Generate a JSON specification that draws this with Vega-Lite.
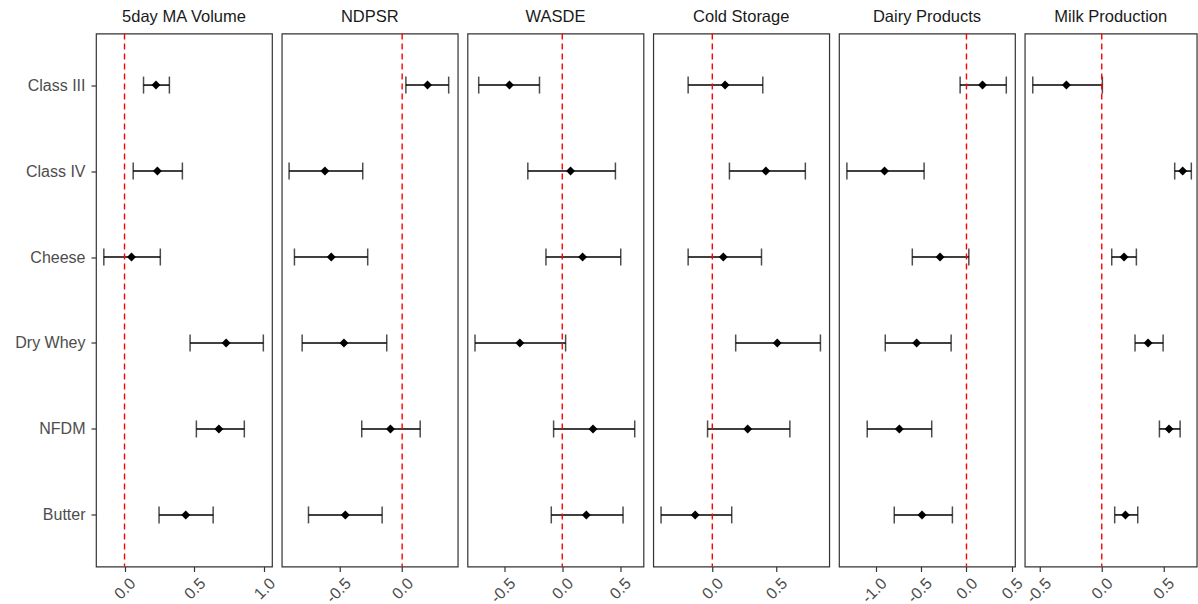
{
  "$schema": "https://vega.github.io/schema/vega-lite/v6.json",
  "padding": {"left": 14, "top": 8.5, "right": 0, "bottom": 0},
  "background": "white",
  "spacing": 9.75,
  "bounds": "flush",
  "config": {
    "view": {"stroke": "#333333", "strokeWidth": 1.2},
    "font": "Liberation Sans",
    "axis": {"grid": false, "domain": false, "tickColor": "#333333", "tickSize": 5, "tickWidth": 1.2, "labelColor": "#4D4D4D", "labelFont": "Liberation Sans", "labelFontSize": 16, "title": null},
    "title": {"font": "Liberation Sans", "fontSize": 16.5, "fontWeight": "normal", "color": "#1A1A1A", "offset": 7}
  },
  "data": {"values": [
    {"panel": "5day MA Volume", "commodity": "Class III", "est": 0.225, "lo": 0.136, "hi": 0.321},
    {"panel": "5day MA Volume", "commodity": "Class IV", "est": 0.235, "lo": 0.062, "hi": 0.414},
    {"panel": "5day MA Volume", "commodity": "Cheese", "est": 0.05, "lo": -0.148, "hi": 0.256},
    {"panel": "5day MA Volume", "commodity": "Dry Whey", "est": 0.727, "lo": 0.469, "hi": 0.993},
    {"panel": "5day MA Volume", "commodity": "NFDM", "est": 0.675, "lo": 0.514, "hi": 0.857},
    {"panel": "5day MA Volume", "commodity": "Butter", "est": 0.438, "lo": 0.247, "hi": 0.634},
    {"panel": "NDPSR", "commodity": "Class III", "est": 0.204, "lo": 0.03, "hi": 0.374},
    {"panel": "NDPSR", "commodity": "Class IV", "est": -0.621, "lo": -0.909, "hi": -0.317},
    {"panel": "NDPSR", "commodity": "Cheese", "est": -0.57, "lo": -0.866, "hi": -0.277},
    {"panel": "NDPSR", "commodity": "Dry Whey", "est": -0.468, "lo": -0.804, "hi": -0.124},
    {"panel": "NDPSR", "commodity": "NFDM", "est": -0.094, "lo": -0.325, "hi": 0.145},
    {"panel": "NDPSR", "commodity": "Butter", "est": -0.457, "lo": -0.753, "hi": -0.161},
    {"panel": "WASDE", "commodity": "Class III", "est": -0.457, "lo": -0.723, "hi": -0.197},
    {"panel": "WASDE", "commodity": "Class IV", "est": 0.072, "lo": -0.298, "hi": 0.46},
    {"panel": "WASDE", "commodity": "Cheese", "est": 0.176, "lo": -0.141, "hi": 0.506},
    {"panel": "WASDE", "commodity": "Dry Whey", "est": -0.367, "lo": -0.755, "hi": 0.029},
    {"panel": "WASDE", "commodity": "NFDM", "est": 0.266, "lo": -0.075, "hi": 0.627},
    {"panel": "WASDE", "commodity": "Butter", "est": 0.208, "lo": -0.095, "hi": 0.526},
    {"panel": "Cold Storage", "commodity": "Class III", "est": 0.1, "lo": -0.189, "hi": 0.395},
    {"panel": "Cold Storage", "commodity": "Class IV", "est": 0.419, "lo": 0.134, "hi": 0.728},
    {"panel": "Cold Storage", "commodity": "Cheese", "est": 0.086, "lo": -0.189, "hi": 0.385},
    {"panel": "Cold Storage", "commodity": "Dry Whey", "est": 0.508, "lo": 0.183, "hi": 0.846},
    {"panel": "Cold Storage", "commodity": "NFDM", "est": 0.277, "lo": -0.037, "hi": 0.607},
    {"panel": "Cold Storage", "commodity": "Butter", "est": -0.134, "lo": -0.401, "hi": 0.152},
    {"panel": "Dairy Products", "commodity": "Class III", "est": 0.177, "lo": -0.07, "hi": 0.439},
    {"panel": "Dairy Products", "commodity": "Class IV", "est": -0.903, "lo": -1.318, "hi": -0.467},
    {"panel": "Dairy Products", "commodity": "Cheese", "est": -0.291, "lo": -0.597, "hi": 0.026},
    {"panel": "Dairy Products", "commodity": "Dry Whey", "est": -0.549, "lo": -0.895, "hi": -0.169},
    {"panel": "Dairy Products", "commodity": "NFDM", "est": -0.74, "lo": -1.094, "hi": -0.383},
    {"panel": "Dairy Products", "commodity": "Butter", "est": -0.49, "lo": -0.796, "hi": -0.155},
    {"panel": "Milk Production", "commodity": "Class III", "est": -0.287, "lo": -0.56, "hi": 0.005},
    {"panel": "Milk Production", "commodity": "Class IV", "est": 0.657, "lo": 0.592, "hi": 0.727},
    {"panel": "Milk Production", "commodity": "Cheese", "est": 0.181, "lo": 0.081, "hi": 0.281},
    {"panel": "Milk Production", "commodity": "Dry Whey", "est": 0.376, "lo": 0.27, "hi": 0.498},
    {"panel": "Milk Production", "commodity": "NFDM", "est": 0.546, "lo": 0.468, "hi": 0.636},
    {"panel": "Milk Production", "commodity": "Butter", "est": 0.192, "lo": 0.105, "hi": 0.292}
  ]},
  "hconcat": [
    {
      "width": 176, "height": 533, "title": "5day MA Volume",
      "transform": [{"filter": "datum.panel === '5day MA Volume'"}],
      "layer": [
        {"mark": {"type": "rule", "color": "#000000", "strokeWidth": 1.5},
         "encoding": {
           "x": {"field": "lo", "type": "quantitative", "scale": {"domain": [-0.204, 1.055], "nice": false, "zero": false},
                 "axis": {"values": [0, 0.5, 1], "labelExpr": "replace(format(datum.value, '.1f'), '\u2212', '-')", "labelAngle": -45, "labelAlign": "right", "labelBaseline": "middle", "labelPadding": 9, "labelOffset": 8, "labelOverlap": false, "labelFlush": false, "labelBound": false}},
           "x2": {"field": "hi"},
           "y": {"field": "commodity", "type": "nominal", "sort": ["Class III", "Class IV", "Cheese", "Dry Whey", "NFDM", "Butter"], "scale": {"type": "point", "padding": 0.6}, "axis": {"labelPadding": 6}}}},
        {"mark": {"type": "tick", "orient": "vertical", "size": 17, "thickness": 1.5, "color": "#000000"},
         "encoding": {"x": {"field": "lo", "type": "quantitative"}, "y": {"field": "commodity", "type": "nominal", "sort": ["Class III", "Class IV", "Cheese", "Dry Whey", "NFDM", "Butter"]}}},
        {"mark": {"type": "tick", "orient": "vertical", "size": 17, "thickness": 1.5, "color": "#000000"},
         "encoding": {"x": {"field": "hi", "type": "quantitative"}, "y": {"field": "commodity", "type": "nominal", "sort": ["Class III", "Class IV", "Cheese", "Dry Whey", "NFDM", "Butter"]}}},
        {"mark": {"type": "point", "shape": "diamond", "filled": true, "size": 80, "color": "#000000", "opacity": 1},
         "encoding": {"x": {"field": "est", "type": "quantitative"}, "y": {"field": "commodity", "type": "nominal", "sort": ["Class III", "Class IV", "Cheese", "Dry Whey", "NFDM", "Butter"]}}},
        {"data": {"values": [{"v": 0}]},
         "mark": {"type": "rule", "color": "#FF0000", "strokeDash": [6, 4], "strokeWidth": 1.4},
         "encoding": {"x": {"field": "v", "type": "quantitative"}}}
      ]
    },
    {
      "width": 176, "height": 533, "title": "NDPSR",
      "transform": [{"filter": "datum.panel === 'NDPSR'"}],
      "layer": [
        {"mark": {"type": "rule", "color": "#000000", "strokeWidth": 1.5},
         "encoding": {
           "x": {"field": "lo", "type": "quantitative", "scale": {"domain": [-0.968, 0.447], "nice": false, "zero": false},
                 "axis": {"values": [-0.5, 0], "labelExpr": "replace(format(datum.value, '.1f'), '\u2212', '-')", "labelAngle": -45, "labelAlign": "right", "labelBaseline": "middle", "labelPadding": 9, "labelOffset": 8, "labelOverlap": false, "labelFlush": false, "labelBound": false}},
           "x2": {"field": "hi"},
           "y": {"field": "commodity", "type": "nominal", "sort": ["Class III", "Class IV", "Cheese", "Dry Whey", "NFDM", "Butter"], "scale": {"type": "point", "padding": 0.6}, "axis": null}}},
        {"mark": {"type": "tick", "orient": "vertical", "size": 17, "thickness": 1.5, "color": "#000000"},
         "encoding": {"x": {"field": "lo", "type": "quantitative"}, "y": {"field": "commodity", "type": "nominal", "sort": ["Class III", "Class IV", "Cheese", "Dry Whey", "NFDM", "Butter"]}}},
        {"mark": {"type": "tick", "orient": "vertical", "size": 17, "thickness": 1.5, "color": "#000000"},
         "encoding": {"x": {"field": "hi", "type": "quantitative"}, "y": {"field": "commodity", "type": "nominal", "sort": ["Class III", "Class IV", "Cheese", "Dry Whey", "NFDM", "Butter"]}}},
        {"mark": {"type": "point", "shape": "diamond", "filled": true, "size": 80, "color": "#000000", "opacity": 1},
         "encoding": {"x": {"field": "est", "type": "quantitative"}, "y": {"field": "commodity", "type": "nominal", "sort": ["Class III", "Class IV", "Cheese", "Dry Whey", "NFDM", "Butter"]}}},
        {"data": {"values": [{"v": 0}]},
         "mark": {"type": "rule", "color": "#FF0000", "strokeDash": [6, 4], "strokeWidth": 1.4},
         "encoding": {"x": {"field": "v", "type": "quantitative"}}}
      ]
    },
    {
      "width": 176, "height": 533, "title": "WASDE",
      "transform": [{"filter": "datum.panel === 'WASDE'"}],
      "layer": [
        {"mark": {"type": "rule", "color": "#000000", "strokeWidth": 1.5},
         "encoding": {
           "x": {"field": "lo", "type": "quantitative", "scale": {"domain": [-0.82, 0.703], "nice": false, "zero": false},
                 "axis": {"values": [-0.5, 0, 0.5], "labelExpr": "replace(format(datum.value, '.1f'), '\u2212', '-')", "labelAngle": -45, "labelAlign": "right", "labelBaseline": "middle", "labelPadding": 9, "labelOffset": 8, "labelOverlap": false, "labelFlush": false, "labelBound": false}},
           "x2": {"field": "hi"},
           "y": {"field": "commodity", "type": "nominal", "sort": ["Class III", "Class IV", "Cheese", "Dry Whey", "NFDM", "Butter"], "scale": {"type": "point", "padding": 0.6}, "axis": null}}},
        {"mark": {"type": "tick", "orient": "vertical", "size": 17, "thickness": 1.5, "color": "#000000"},
         "encoding": {"x": {"field": "lo", "type": "quantitative"}, "y": {"field": "commodity", "type": "nominal", "sort": ["Class III", "Class IV", "Cheese", "Dry Whey", "NFDM", "Butter"]}}},
        {"mark": {"type": "tick", "orient": "vertical", "size": 17, "thickness": 1.5, "color": "#000000"},
         "encoding": {"x": {"field": "hi", "type": "quantitative"}, "y": {"field": "commodity", "type": "nominal", "sort": ["Class III", "Class IV", "Cheese", "Dry Whey", "NFDM", "Butter"]}}},
        {"mark": {"type": "point", "shape": "diamond", "filled": true, "size": 80, "color": "#000000", "opacity": 1},
         "encoding": {"x": {"field": "est", "type": "quantitative"}, "y": {"field": "commodity", "type": "nominal", "sort": ["Class III", "Class IV", "Cheese", "Dry Whey", "NFDM", "Butter"]}}},
        {"data": {"values": [{"v": 0}]},
         "mark": {"type": "rule", "color": "#FF0000", "strokeDash": [6, 4], "strokeWidth": 1.4},
         "encoding": {"x": {"field": "v", "type": "quantitative"}}}
      ]
    },
    {
      "width": 176, "height": 533, "title": "Cold Storage",
      "transform": [{"filter": "datum.panel === 'Cold Storage'"}],
      "layer": [
        {"mark": {"type": "rule", "color": "#000000", "strokeWidth": 1.5},
         "encoding": {
           "x": {"field": "lo", "type": "quantitative", "scale": {"domain": [-0.462, 0.915], "nice": false, "zero": false},
                 "axis": {"values": [0, 0.5], "labelExpr": "replace(format(datum.value, '.1f'), '\u2212', '-')", "labelAngle": -45, "labelAlign": "right", "labelBaseline": "middle", "labelPadding": 9, "labelOffset": 8, "labelOverlap": false, "labelFlush": false, "labelBound": false}},
           "x2": {"field": "hi"},
           "y": {"field": "commodity", "type": "nominal", "sort": ["Class III", "Class IV", "Cheese", "Dry Whey", "NFDM", "Butter"], "scale": {"type": "point", "padding": 0.6}, "axis": null}}},
        {"mark": {"type": "tick", "orient": "vertical", "size": 17, "thickness": 1.5, "color": "#000000"},
         "encoding": {"x": {"field": "lo", "type": "quantitative"}, "y": {"field": "commodity", "type": "nominal", "sort": ["Class III", "Class IV", "Cheese", "Dry Whey", "NFDM", "Butter"]}}},
        {"mark": {"type": "tick", "orient": "vertical", "size": 17, "thickness": 1.5, "color": "#000000"},
         "encoding": {"x": {"field": "hi", "type": "quantitative"}, "y": {"field": "commodity", "type": "nominal", "sort": ["Class III", "Class IV", "Cheese", "Dry Whey", "NFDM", "Butter"]}}},
        {"mark": {"type": "point", "shape": "diamond", "filled": true, "size": 80, "color": "#000000", "opacity": 1},
         "encoding": {"x": {"field": "est", "type": "quantitative"}, "y": {"field": "commodity", "type": "nominal", "sort": ["Class III", "Class IV", "Cheese", "Dry Whey", "NFDM", "Butter"]}}},
        {"data": {"values": [{"v": 0}]},
         "mark": {"type": "rule", "color": "#FF0000", "strokeDash": [6, 4], "strokeWidth": 1.4},
         "encoding": {"x": {"field": "v", "type": "quantitative"}}}
      ]
    },
    {
      "width": 176, "height": 533, "title": "Dairy Products",
      "transform": [{"filter": "datum.panel === 'Dairy Products'"}],
      "layer": [
        {"mark": {"type": "rule", "color": "#000000", "strokeWidth": 1.5},
         "encoding": {
           "x": {"field": "lo", "type": "quantitative", "scale": {"domain": [-1.405, 0.535], "nice": false, "zero": false},
                 "axis": {"values": [-1, -0.5, 0, 0.5], "labelExpr": "replace(format(datum.value, '.1f'), '\u2212', '-')", "labelAngle": -45, "labelAlign": "right", "labelBaseline": "middle", "labelPadding": 9, "labelOffset": 8, "labelOverlap": false, "labelFlush": false, "labelBound": false}},
           "x2": {"field": "hi"},
           "y": {"field": "commodity", "type": "nominal", "sort": ["Class III", "Class IV", "Cheese", "Dry Whey", "NFDM", "Butter"], "scale": {"type": "point", "padding": 0.6}, "axis": null}}},
        {"mark": {"type": "tick", "orient": "vertical", "size": 17, "thickness": 1.5, "color": "#000000"},
         "encoding": {"x": {"field": "lo", "type": "quantitative"}, "y": {"field": "commodity", "type": "nominal", "sort": ["Class III", "Class IV", "Cheese", "Dry Whey", "NFDM", "Butter"]}}},
        {"mark": {"type": "tick", "orient": "vertical", "size": 17, "thickness": 1.5, "color": "#000000"},
         "encoding": {"x": {"field": "hi", "type": "quantitative"}, "y": {"field": "commodity", "type": "nominal", "sort": ["Class III", "Class IV", "Cheese", "Dry Whey", "NFDM", "Butter"]}}},
        {"mark": {"type": "point", "shape": "diamond", "filled": true, "size": 80, "color": "#000000", "opacity": 1},
         "encoding": {"x": {"field": "est", "type": "quantitative"}, "y": {"field": "commodity", "type": "nominal", "sort": ["Class III", "Class IV", "Cheese", "Dry Whey", "NFDM", "Butter"]}}},
        {"data": {"values": [{"v": 0}]},
         "mark": {"type": "rule", "color": "#FF0000", "strokeDash": [6, 4], "strokeWidth": 1.4},
         "encoding": {"x": {"field": "v", "type": "quantitative"}}}
      ]
    },
    {
      "width": 172, "height": 533, "title": "Milk Production",
      "transform": [{"filter": "datum.panel === 'Milk Production'"}],
      "layer": [
        {"mark": {"type": "rule", "color": "#000000", "strokeWidth": 1.5},
         "encoding": {
           "x": {"field": "lo", "type": "quantitative", "scale": {"domain": [-0.625, 0.771], "nice": false, "zero": false},
                 "axis": {"values": [-0.5, 0, 0.5], "labelExpr": "replace(format(datum.value, '.1f'), '\u2212', '-')", "labelAngle": -45, "labelAlign": "right", "labelBaseline": "middle", "labelPadding": 9, "labelOffset": 8, "labelOverlap": false, "labelFlush": false, "labelBound": false}},
           "x2": {"field": "hi"},
           "y": {"field": "commodity", "type": "nominal", "sort": ["Class III", "Class IV", "Cheese", "Dry Whey", "NFDM", "Butter"], "scale": {"type": "point", "padding": 0.6}, "axis": null}}},
        {"mark": {"type": "tick", "orient": "vertical", "size": 17, "thickness": 1.5, "color": "#000000"},
         "encoding": {"x": {"field": "lo", "type": "quantitative"}, "y": {"field": "commodity", "type": "nominal", "sort": ["Class III", "Class IV", "Cheese", "Dry Whey", "NFDM", "Butter"]}}},
        {"mark": {"type": "tick", "orient": "vertical", "size": 17, "thickness": 1.5, "color": "#000000"},
         "encoding": {"x": {"field": "hi", "type": "quantitative"}, "y": {"field": "commodity", "type": "nominal", "sort": ["Class III", "Class IV", "Cheese", "Dry Whey", "NFDM", "Butter"]}}},
        {"mark": {"type": "point", "shape": "diamond", "filled": true, "size": 80, "color": "#000000", "opacity": 1},
         "encoding": {"x": {"field": "est", "type": "quantitative"}, "y": {"field": "commodity", "type": "nominal", "sort": ["Class III", "Class IV", "Cheese", "Dry Whey", "NFDM", "Butter"]}}},
        {"data": {"values": [{"v": 0}]},
         "mark": {"type": "rule", "color": "#FF0000", "strokeDash": [6, 4], "strokeWidth": 1.4},
         "encoding": {"x": {"field": "v", "type": "quantitative"}}}
      ]
    }
  ]
}
